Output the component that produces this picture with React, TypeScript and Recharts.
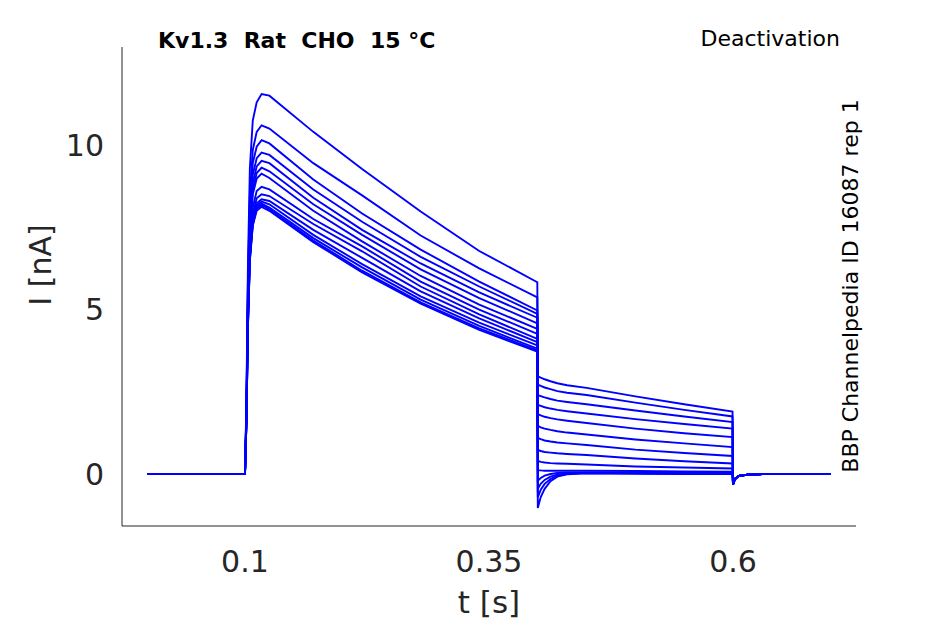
import { LineChart, Line, XAxis, YAxis } from "recharts"

// time points (s) of each protocol segment
const holdTimes = [0, 0.05, 0.1]
const stepTimes = [0.1015, 0.103, 0.105, 0.108, 0.112, 0.117, 0.125, 0.17, 0.22, 0.28, 0.34, 0.3995]
const tailTimes = [0.4, 0.403, 0.407, 0.413, 0.42, 0.43, 0.45, 0.5, 0.55, 0.5995]
const returnTimes = [0.6, 0.602, 0.606, 0.615, 0.63, 0.7]

// currents (nA) shared by all sweeps
const holdCurrent = [0, 0, 0]
const returnCurrent = [-0.32, -0.15, -0.06, -0.02, 0, 0]

// activation step, one row per sweep
const stepCurrents = [
  [2.3, 6.3, 9.3, 10.75, 11.3, 11.55, 11.5, 10.4, 9.27, 7.98, 6.78, 5.83],
  [2.1, 5.8, 8.5, 9.85, 10.4, 10.6, 10.5, 9.45, 8.47, 7.25, 6.25, 5.37],
  [2.0, 5.6, 8.1, 9.45, 9.95, 10.15, 10.05, 8.95, 7.92, 6.82, 5.85, 4.97],
  [1.9, 5.4, 7.8, 9.1, 9.6, 9.77, 9.7, 8.65, 7.67, 6.6, 5.7, 4.87],
  [1.9, 5.2, 7.6, 8.85, 9.35, 9.52, 9.45, 8.4, 7.42, 6.4, 5.52, 4.75],
  [1.8, 5.1, 7.45, 8.65, 9.15, 9.31, 9.2, 8.2, 7.27, 6.22, 5.35, 4.58],
  [1.8, 5.0, 7.3, 8.5, 8.98, 9.13, 9.0, 8.0, 7.07, 6.02, 5.15, 4.41],
  [1.7, 4.8, 7.0, 8.1, 8.6, 8.73, 8.65, 7.75, 6.92, 5.85, 5.0, 4.26],
  [1.7, 4.7, 6.8, 7.9, 8.38, 8.5, 8.45, 7.6, 6.77, 5.7, 4.85, 4.11],
  [1.6, 4.6, 6.7, 7.78, 8.23, 8.35, 8.3, 7.42, 6.57, 5.55, 4.73, 4.01],
  [1.6, 4.55, 6.6, 7.7, 8.16, 8.28, 8.2, 7.27, 6.38, 5.4, 4.6, 3.91],
  [1.6, 4.5, 6.55, 7.65, 8.1, 8.22, 8.1, 7.17, 6.28, 5.3, 4.5, 3.81],
  [1.6, 4.5, 6.5, 7.6, 8.06, 8.18, 8.05, 7.1, 6.18, 5.22, 4.43, 3.76],
  [1.6, 4.45, 6.5, 7.55, 8.0, 8.12, 8.0, 7.05, 6.13, 5.18, 4.38, 3.72],
]

// deactivation tails, one row per sweep
const tailCurrents = [
  [2.97, 2.93, 2.88, 2.82, 2.76, 2.7, 2.62, 2.36, 2.12, 1.9],
  [2.72, 2.68, 2.63, 2.58, 2.52, 2.47, 2.4, 2.17, 1.95, 1.75],
  [2.4, 2.37, 2.33, 2.28, 2.23, 2.19, 2.12, 1.93, 1.75, 1.58],
  [2.1, 2.07, 2.03, 1.99, 1.95, 1.91, 1.84, 1.67, 1.52, 1.38],
  [1.82, 1.78, 1.74, 1.7, 1.66, 1.62, 1.55, 1.38, 1.24, 1.12],
  [1.46, 1.42, 1.38, 1.34, 1.3, 1.26, 1.2, 1.05, 0.93, 0.82],
  [1.1, 1.06, 1.02, 0.99, 0.96, 0.93, 0.88, 0.74, 0.64, 0.55],
  [0.73, 0.7, 0.67, 0.65, 0.63, 0.61, 0.58, 0.47, 0.39, 0.32],
  [0.4, 0.37, 0.35, 0.33, 0.32, 0.31, 0.29, 0.23, 0.2, 0.17],
  [0.12, 0.11, 0.1, 0.1, 0.1, 0.1, 0.1, 0.09, 0.08, 0.07],
  [-0.2, -0.12, -0.05, 0.0, 0.03, 0.05, 0.05, 0.04, 0.03, 0.03],
  [-0.45, -0.3, -0.18, -0.08, -0.02, 0.02, 0.04, 0.03, 0.02, 0.02],
  [-0.7, -0.48, -0.3, -0.15, -0.05, 0.01, 0.03, 0.02, 0.01, 0.01],
  [-1.03, -0.7, -0.45, -0.22, -0.08, -0.01, 0.02, 0.01, 0.0, 0.0],
]

const xTicks = [0.1, 0.35, 0.6]
const yTicks = [0, 5, 10]

const times = [...holdTimes, ...stepTimes, ...tailTimes, ...returnTimes]
const sweeps = stepCurrents.map((step, i) => [...holdCurrent, ...step, ...tailCurrents[i], ...returnCurrent])
const rows = times.map((t, k) => {
  const row: Record<string, number> = { t }
  sweeps.forEach((s, i) => {
    row["s" + i] = s[k]
  })
  return row
})

const font = "DejaVu Sans, sans-serif"
const ink = "#262626"

export default function App() {
  return (
    <div style={{ position: "fixed", left: 0, top: 0, width: 945, height: 624, background: "#fff" }}>
      <LineChart width={945} height={624} data={rows} margin={{ top: 47, right: 89, bottom: 38, left: 42 }}>
        <XAxis
          dataKey="t"
          type="number"
          domain={[-0.026, 0.726]}
          ticks={xTicks}
          allowDataOverflow
          height={60}
          stroke={ink}
          tickLine={false}
          tickSize={0}
          tickMargin={25}
          tick={{ fill: ink, fontSize: 30, fontFamily: font }}
        />
        <YAxis
          type="number"
          domain={[-1.58, 12.98]}
          ticks={yTicks}
          allowDataOverflow
          width={80}
          stroke={ink}
          tickLine={false}
          tickSize={0}
          tickMargin={18}
          tick={{ fill: ink, fontSize: 30, fontFamily: font }}
        />
        {sweeps.map((_, i) => (
          <Line
            key={i}
            dataKey={"s" + i}
            type="linear"
            stroke="#0000ff"
            strokeWidth={1.9}
            dot={false}
            isAnimationActive={false}
          />
        ))}
      </LineChart>
      <svg width={945} height={624} style={{ position: "absolute", left: 0, top: 0, pointerEvents: "none" }}>
        <text x={158} y={48} fontFamily={font} fontWeight="bold" fontSize={22} fill="#000" style={{ whiteSpace: "pre" }}>
          {"Kv1.3  Rat  CHO  15 °C"}
        </text>
        <text x={840} y={46} textAnchor="end" fontFamily={font} fontSize={22} fill="#000">
          Deactivation
        </text>
        <text
          x={850}
          y={286}
          textAnchor="middle"
          dominantBaseline="central"
          transform="rotate(-90 850 286)"
          fontFamily={font}
          fontSize={22}
          fill="#000"
        >
          BBP Channelpedia ID 16087 rep 1
        </text>
        <text
          x={40}
          y={265}
          textAnchor="middle"
          dominantBaseline="central"
          transform="rotate(-90 40 265)"
          fontFamily={font}
          fontSize={30}
          fill={ink}
        >
          I [nA]
        </text>
        <text x={489} y={602} textAnchor="middle" dominantBaseline="central" fontFamily={font} fontSize={31} fill={ink}>
          t [s]
        </text>
      </svg>
    </div>
  )
}
